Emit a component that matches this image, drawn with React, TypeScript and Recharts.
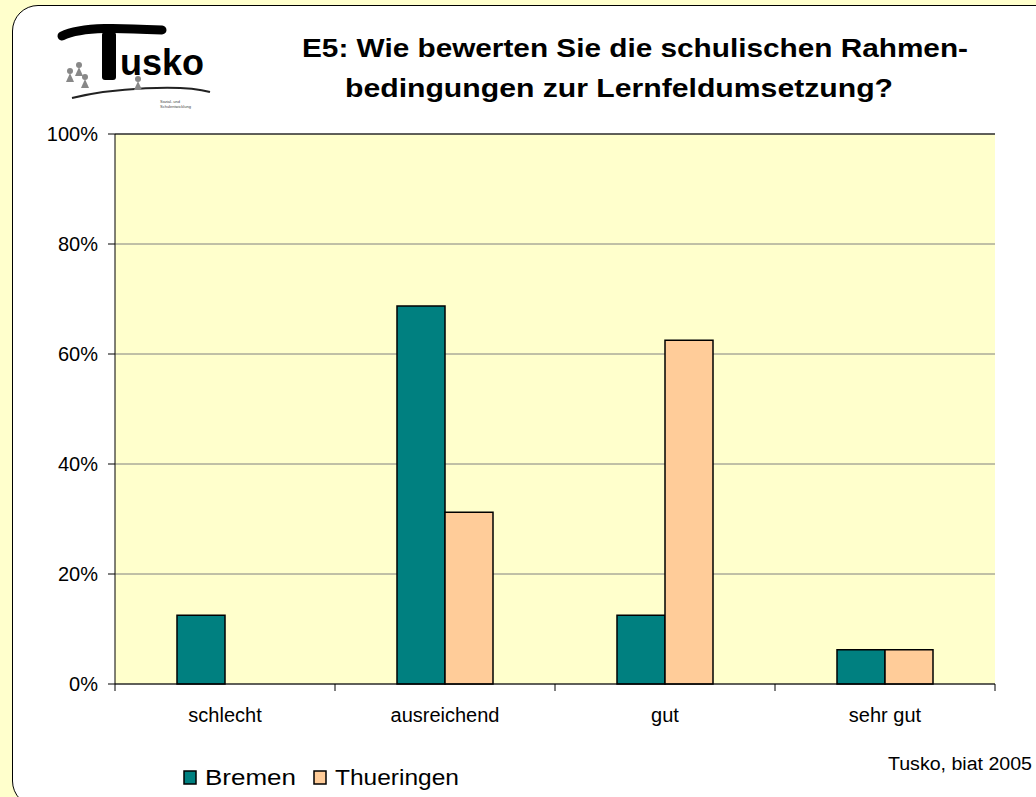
import React from 'react';
import { BarChart, Bar, XAxis, YAxis, CartesianGrid, ReferenceLine } from 'recharts';

const categories = ['schlecht', 'ausreichend', 'gut', 'sehr gut'];
const bremen = [0.125, 0.6875, 0.125, 0.0625];
const thueringen = [0, 0.3125, 0.625, 0.0625];
const yTicks = [0, 0.2, 0.4, 0.6, 0.8, 1];

const rows = categories.map((name, i) => ({ name, Bremen: bremen[i], Thueringen: thueringen[i] }));

const FONT = '"Liberation Sans", Arial, sans-serif';
const TEAL = '#008080';
const PEACH = '#FFCC99';

function Logo() {
  return (
    <svg width={170} height={95} style={{ position: 'absolute', left: 52, top: 18 }}>
      <path d="M10 18 C 30 8, 70 10, 110 12" stroke="#000" strokeWidth={9} fill="none" strokeLinecap="round" />
      <rect x={50} y={14} width={14} height={48} fill="#000" rx={3} />
      <text x={68} y={57} fontFamily={FONT} fontSize={36} fontWeight="bold" fill="#000">usko</text>
      <path d="M20 80 C 60 70, 130 66, 158 74" stroke="#222" strokeWidth={2} fill="none" />
      {[[18, 58], [27, 52], [33, 64], [86, 66]].map(([x, y], i) => (
        <g key={i} fill="#888">
          <circle cx={x} cy={y - 5} r={3} />
          <path d={`M${x - 4} ${y + 6} L${x} ${y - 3} L${x + 4} ${y + 6} Z`} />
        </g>
      ))}
      <text x={108} y={85} fontFamily={FONT} fontSize={4} fill="#444">Sozial- und</text>
      <text x={108} y={90} fontFamily={FONT} fontSize={4} fill="#444">Schulentwicklung</text>
    </svg>
  );
}

// category label plus tick marks on the band edges
function CatTick(props: any) {
  const { x, y, payload, index, visibleTicksCount } = props;
  const half = payload.offset || 0;
  const axisY = y - 24;
  return (
    <g>
      <line x1={x - half} y1={axisY} x2={x - half} y2={axisY + 7} stroke="#000" />
      {index === visibleTicksCount - 1 && <line x1={x + half} y1={axisY} x2={x + half} y2={axisY + 7} stroke="#000" />}
      <text x={x} y={y} dy="0.71em" textAnchor="middle" fill="#000" fontSize={20} fontFamily={FONT}>{payload.value}</text>
    </g>
  );
}

export default function App() {
  return (
    <div style={{ position: 'absolute', left: 0, top: 0, width: 1036, height: 797, overflow: 'hidden', background: '#FFFFCC', fontFamily: FONT }}>
      <div style={{ position: 'absolute', left: 12, top: 5, width: 1100, height: 800, background: '#fff', border: '1.5px solid #000', borderRadius: 26 }} />
      <Logo />
      <svg width={1036} height={110} style={{ position: 'absolute', left: 0, top: 0 }}>
        <text x={302} y={57} fontFamily={FONT} fontSize={25} fontWeight="bold" textLength={666} lengthAdjust="spacingAndGlyphs">E5: Wie bewerten Sie die schulischen Rahmen-</text>
        <text x={345} y={97} fontFamily={FONT} fontSize={25} fontWeight="bold" textLength={548} lengthAdjust="spacingAndGlyphs">bedingungen zur Lernfeldumsetzung?</text>
      </svg>
      <div style={{ position: 'absolute', left: 0, top: 0 }}>
        <BarChart width={1036} height={797} data={rows} margin={{ top: 134, right: 41, bottom: 73, left: 0 }} barGap={0} barCategoryGap="28%">
          <CartesianGrid vertical={false} stroke="#808080" fill="#FFFFCC" />
          <XAxis dataKey="name" height={40} axisLine={{ stroke: '#000' }} tickLine={false} tickSize={7} tickMargin={17} tick={<CatTick />} />
          <YAxis domain={[0, 1]} ticks={yTicks} width={115} tickFormatter={(v: number) => `${Math.round(v * 100)}%`} axisLine={{ stroke: '#000' }} tickLine={{ stroke: '#000' }} tickSize={7} tickMargin={10} tick={{ fill: '#000', fontSize: 20, fontFamily: FONT }} />
          <YAxis yAxisId="r" orientation="right" domain={[0, 1]} width={0} axisLine={{ stroke: '#000' }} tickLine={false} tick={false} />
          <ReferenceLine y={1} stroke="#000" />
          <Bar dataKey="Bremen" fill={TEAL} stroke="#000" strokeWidth={1.5} barSize={48} isAnimationActive={false} />
          <Bar dataKey="Thueringen" fill={PEACH} stroke="#000" strokeWidth={1.5} barSize={48} isAnimationActive={false} />
        </BarChart>
      </div>
      <svg width={1036} height={797} style={{ position: 'absolute', left: 0, top: 0, pointerEvents: 'none' }}>
        <rect x={184} y={771} width={12} height={13} fill={TEAL} stroke="#000" strokeWidth={1.5} />
        <text x={205} y={785} fontFamily={FONT} fontSize={22} textLength={91} lengthAdjust="spacingAndGlyphs">Bremen</text>
        <rect x={314} y={771} width={12} height={13} fill={PEACH} stroke="#000" strokeWidth={1.5} />
        <text x={335} y={785} fontFamily={FONT} fontSize={22} textLength={124} lengthAdjust="spacingAndGlyphs">Thueringen</text>
        <text x={888} y={770} fontFamily={FONT} fontSize={18} textLength={144} lengthAdjust="spacingAndGlyphs">Tusko, biat 2005</text>
      </svg>
    </div>
  );
}
